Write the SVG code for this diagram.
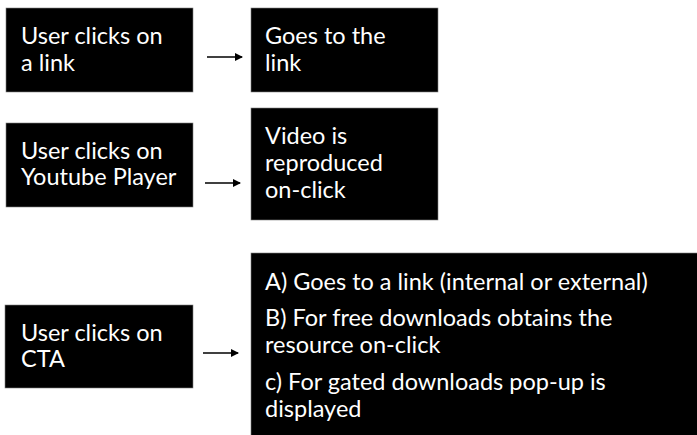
<svg xmlns="http://www.w3.org/2000/svg" width="697" height="435" viewBox="0 0 697 435">
<defs>
<style>
.box{fill:#000;stroke:#7f7f7f;stroke-width:0.6}
.t{fill:#fff;font-family:Lato,"Open Sans","Liberation Sans",sans-serif;font-size:23.5px}
.c{stroke:#000;stroke-width:1.6;fill:none}
</style>
<marker id="ah" markerWidth="8" markerHeight="8" refX="7" refY="4" orient="auto" markerUnits="userSpaceOnUse">
<path d="M0,0 L8,4 L0,8 Z" fill="#000"/>
</marker>
</defs>
<rect width="697" height="435" fill="#fff"/>
<g id="n1"><rect class="box" x="6" y="8" width="187" height="84"/><text class="t" x="21" y="44">User clicks on</text><text class="t" x="21" y="71">a link</text></g>
<g id="n2"><rect class="box" x="251" y="8" width="187" height="84"/><text class="t" x="265" y="44">Goes to the</text><text class="t" x="265" y="71">link</text></g>
<g id="n3"><rect class="box" x="6" y="123" width="187" height="84"/><text class="t" x="21" y="159">User clicks on</text><text class="t" x="21" y="185">Youtube Player</text></g>
<g id="n4"><rect class="box" x="251" y="108" width="187" height="112"/><text class="t" x="265" y="144">Video is</text><text class="t" x="265" y="171">reproduced</text><text class="t" x="265" y="198">on-click</text></g>
<g id="n5"><rect class="box" x="5" y="305" width="188" height="83"/><text class="t" x="21" y="341">User clicks on</text><text class="t" x="21" y="367">CTA</text></g>
<g id="n6"><rect class="box" x="251" y="253" width="447" height="183"/><text class="t" x="265" y="290">A) Goes to a link (internal or external)</text><text class="t" x="265" y="326">B) For free downloads obtains the</text><text class="t" x="265" y="353">resource on-click</text><text class="t" x="265" y="390">c) For gated downloads pop-up is</text><text class="t" x="265" y="417">displayed</text></g>
<g id="connectors">
<line class="c" x1="207" y1="57" x2="242" y2="57" marker-end="url(#ah)"/>
<line class="c" x1="205" y1="183" x2="240" y2="183" marker-end="url(#ah)"/>
<line class="c" x1="203" y1="353" x2="238" y2="353" marker-end="url(#ah)"/>
</g>
</svg>
